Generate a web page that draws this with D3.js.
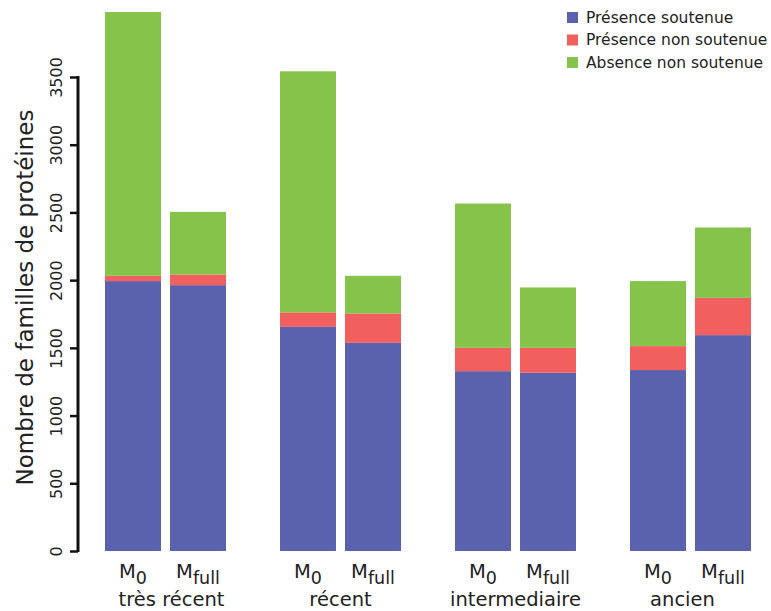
<!DOCTYPE html>
<html>
<head>
<meta charset="utf-8">
<script src="https://cdn.jsdelivr.net/npm/d3@7"></script>
<style>
  html, body { margin: 0; padding: 0; background: #fff; }
  svg { display: block; font-family: "DejaVu Sans", sans-serif; }
</style>
</head>
<body>
<svg id="chart" width="771" height="611"></svg>
<script>
// ---- data ----
const groups = ["très récent", "récent", "intermediaire", "ancien"];
const models = ["M0", "Mfull"];
const seriesNames = ["Présence soutenue", "Présence non soutenue", "Absence non soutenue"];
// order: très récent M0, Mfull, récent M0, Mfull, intermediaire M0, Mfull, ancien M0, Mfull
const presenceSoutenue    = [1993, 1963, 1655, 1537, 1328, 1316, 1336, 1594];
const presenceNonSoutenue = [39, 79, 107, 217, 172, 184, 177, 275];
const absenceNonSoutenue  = [1948, 462, 1780, 278, 1066, 446, 480, 520];
const yTicks = [0, 500, 1000, 1500, 2000, 2500, 3000, 3500];
const colors = ["#5a61ad", "#f1605f", "#86c34b"];

// ---- build table ----
const rows = [];
groups.forEach((g, gi) => {
  models.forEach((m, mi) => {
    const i = gi * 2 + mi;
    rows.push({ group: g, model: m,
      "Présence soutenue": presenceSoutenue[i],
      "Présence non soutenue": presenceNonSoutenue[i],
      "Absence non soutenue": absenceNonSoutenue[i] });
  });
});

const svg = d3.select("#chart");

const y = d3.scaleLinear().domain([0, 3500]).range([551, 77]);
const x0 = d3.scaleBand().domain(groups).range([78, 778])
  .paddingInner(54 / 175).paddingOuter(27 / 175);
const x1 = d3.scaleBand().domain(models).range([0, x0.bandwidth()])
  .paddingInner(9 / 65).paddingOuter(0);

const stacked = d3.stack().keys(seriesNames)(rows);

svg.append("g").selectAll("g")
  .data(stacked)
  .join("g")
  .attr("fill", (d, i) => colors[i])
  .selectAll("rect")
  .data(d => d)
  .join("rect")
  .attr("x", d => x0(d.data.group) + x1(d.data.model))
  .attr("width", x1.bandwidth())
  .attr("y", d => y(d[1]))
  .attr("height", d => y(d[0]) - y(d[1]));

// ---- y axis (R style) ----
const axisX = 78;
const yAxis = d3.axisLeft(y).tickValues(yTicks).tickFormat(d3.format("d"))
  .tickSize(8).tickSizeOuter(0).tickPadding(6);
const ag = svg.append("g").attr("transform", `translate(${axisX},0)`)
  .call(yAxis);
ag.select(".domain")
  .attr("stroke", "#111").attr("stroke-width", 3)
  .attr("d", `M0,${y(0) + 1}V${y(3500) - 1}`);
ag.selectAll(".tick line")
  .attr("stroke", "#111").attr("stroke-width", 2.5);
ag.selectAll(".tick text")
  .attr("font-size", 16)
  .attr("font-family", "'DejaVu Sans', sans-serif")
  .attr("fill", "#222")
  .attr("text-anchor", "middle")
  .attr("dy", null)
  .attr("x", null)
  .attr("transform", "translate(-21,0) rotate(-90)")
  .attr("dominant-baseline", "middle");

svg.append("text")
  .attr("transform", `translate(26,${(105 + 490) / 2}) rotate(-90)`)
  .attr("text-anchor", "middle")
  .attr("dominant-baseline", "middle")
  .attr("font-size", 23)
  .attr("fill", "#222")
  .text("Nombre de familles de protéines");

// ---- x labels ----
const xl = svg.append("g");
rows.forEach(r => {
  const cx = x0(r.group) + x1(r.model) + x1.bandwidth() / 2;
  const t = xl.append("text")
    .attr("x", cx).attr("y", 578)
    .attr("text-anchor", "middle")
    .attr("font-size", 19.5)
    .attr("fill", "#222");
  t.append("tspan").text(r.model.charAt(0));
  t.append("tspan").attr("font-size", 17.5).attr("dy", 6).text(r.model.slice(1));
});
const groupShift = { "très récent": 6, "ancien": -8 };
groups.forEach(g => {
  xl.append("text")
    .attr("x", x0(g) + x0.bandwidth() / 2 + (groupShift[g] || 0))
    .attr("y", 606)
    .attr("text-anchor", "middle")
    .attr("font-size", 19.5)
    .attr("fill", "#222")
    .text(g);
});

// ---- legend ----
const leg = svg.append("g");
seriesNames.forEach((s, i) => {
  const cy = 18 + i * 22.5;
  leg.append("rect")
    .attr("x", 567).attr("y", cy - 6).attr("width", 11).attr("height", 11)
    .attr("fill", colors[i]);
  leg.append("text")
    .attr("x", 586).attr("y", cy)
    .attr("dominant-baseline", "middle")
    .attr("font-size", 15.5)
    .attr("fill", "#222")
    .text(s);
});
</script>
</body>
</html>
